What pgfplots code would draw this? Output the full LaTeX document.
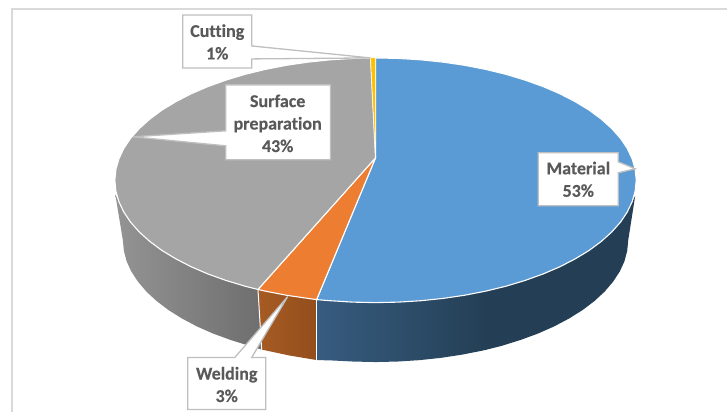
\documentclass[border=0pt]{standalone}
\usepackage{fontspec}
\setmainfont[Ligatures=NoCommon,BoldFeatures={FakeBold=0.25}]{Carlito}
\usepackage{pgfplots}
\pgfplotsset{compat=1.18}
\definecolor{cblue}{HTML}{5B9BD5}
\definecolor{corange}{HTML}{ED7D31}
\definecolor{cgray}{HTML}{A5A5A5}
\definecolor{cyellow}{HTML}{FFC000}
\definecolor{wblueL}{HTML}{375C80}
\definecolor{wblueD}{HTML}{243F55}
\definecolor{worangeL}{HTML}{A75B23}
\definecolor{worangeD}{HTML}{934E1C}
\definecolor{wgrayL}{HTML}{949494}
\definecolor{wgrayD}{HTML}{6E6E6E}
\definecolor{frameC}{HTML}{D9D9D9}
\definecolor{boxC}{HTML}{BFBFBF}
\definecolor{textC}{HTML}{595959}
\tikzset{
  slice/.style={draw=white,line width=1.1pt,line join=round},
  wall/.style={draw=none},
  callout/.style={draw=boxC,line width=1.3pt,fill=white,line join=miter},
  lab/.style={font=\fontsize{18}{22.5}\selectfont\bfseries,text=textC,align=center,inner sep=0pt}
}
\begin{document}
\begin{tikzpicture}
\begin{axis}[
  width=728pt,height=413pt,scale only axis,
  xmin=0,xmax=728,ymin=0,ymax=413,y dir=reverse,
  hide axis,clip=false,no markers]
\path (axis cs:0,0) rectangle (axis cs:728,413);
% frame
\addplot[draw=frameC,line width=1.8pt] coordinates {(12,413) (12,9) (728,9)};
% walls
\addplot[wall,fill=wblueD] coordinates {(636,196) (633,201.8) (628.1,212.2) (621.3,222.4) (612.5,232.3) (602,241.75) (589.8,250.8) (575.9,259.2) (560.6,267.1) (543.8,274.3) (525.7,280.8) (506.5,286.6) (486,291.5) (486,350.4) (502.5,346.2) (521.1,340.4) (538.6,334) (554.9,326.8) (569.8,318.9) (583.2,310.5) (595.1,301.5) (605.3,292.1) (613.7,282.2) (620.4,272.1) (625.2,261.7) (628,251.1) (629,240.5)} -- cycle;
\addplot[wall,left color=wblueL,right color=wblueD] coordinates {(317,300) (330.7,301.1) (353.2,302.5) (376,303) (398.8,302.5) (421.3,301.1) (443.5,298.8) (465.3,295.6) (487,291.4) (487,350.1) (482.9,351.1) (462.5,355.1) (441.5,358.3) (419.9,360.6) (398.1,362) (376,362.5) (353.9,362) (332.1,360.9) (317,360.5)} -- cycle;
\addplot[wall,left color=worangeL,right color=worangeD] coordinates {(258.3,289.8) (265.7,291.5) (286.7,295.6) (308.5,298.8) (317,300) (317,360.5) (290,356) (262,350)} -- cycle;
\addplot[wall,left color=wgrayL,right color=wgrayD] coordinates {(115.5,195) (119,201.8) (123.9,212.2) (130.7,222.4) (139.5,232.3) (150,241.75) (162.2,250.8) (176.1,259.2) (191.4,267.1) (208.2,274.3) (226.3,280.8) (245.5,286.6) (258.3,289.8) (262,350) (249.5,346.2) (230.9,340.4) (213.4,334) (197.1,326.8) (182.2,318.9) (168.8,310.5) (156.9,301.5) (146.7,292.1) (138.3,282.2) (131.6,272.1) (126.8,261.7) (124,251.1) (123,240.5)} -- cycle;
% white seams on the wall
\addplot[draw=white,line width=1pt] coordinates {(317,300) (317,361)};
\addplot[draw=white,line width=1pt] coordinates {(258.3,289.8) (262,350)};
% top
\addplot[slice,fill=cblue] coordinates {(376,158) (376,58) (398.8,58.5) (421.3,59.9) (443.5,62.2) (465.3,65.4) (486.3,69.5) (506.5,74.4) (525.7,80.2) (543.8,86.7) (560.6,93.9) (575.9,101.8) (589.8,110.2) (602,119.25) (612.5,128.7) (621.3,138.6) (628.1,148.8) (633,159.2) (636,169.8) (637,180.5) (636,191.2) (633,201.8) (628.1,212.2) (621.3,222.4) (612.5,232.3) (602,241.75) (589.8,250.8) (575.9,259.2) (560.6,267.1) (543.8,274.3) (525.7,280.8) (506.5,286.6) (486.3,291.5) (465.3,295.6) (443.5,298.8) (421.3,301.1) (398.8,302.5) (376,303) (353.2,302.5) (330.7,301.1) (317,300)} -- cycle;
\addplot[slice,fill=corange] coordinates {(376,158) (317,300) (308.5,298.8) (286.7,295.6) (265.7,291.5) (258.3,289.8)} -- cycle;
\addplot[slice,fill=cgray] coordinates {(376,158) (258.3,289.8) (245.5,286.6) (226.3,280.8) (208.2,274.3) (191.4,267.1) (176.1,259.2) (162.2,250.8) (150,241.75) (139.5,232.3) (130.7,222.4) (123.9,212.2) (119,201.8) (116,191.2) (115,180.5) (116,169.8) (119,159.2) (123.9,148.8) (130.7,138.6) (139.5,128.7) (150,119.25) (162.2,110.2) (176.1,101.8) (191.4,93.9) (208.2,86.7) (226.3,80.2) (245.5,74.4) (265.7,69.5) (286.7,65.4) (308.5,62.2) (330.7,59.9) (353.2,58.5) (371,58)} -- cycle;
\addplot[slice,line width=0.5pt,fill=cyellow] coordinates {(376,158) (371,58) (376,58)} -- cycle;
% callouts
\addplot[callout] coordinates {(183,15) (252,15) (252,46) (371,58) (252,59) (252,68) (183,68)} -- cycle;
\addplot[callout] coordinates {(226,85) (331,85) (331,160) (226,160) (226,146) (133,137) (226,131)} -- cycle;
\addplot[callout] coordinates {(539,153) (619,153) (619,162) (636,169) (619,173) (619,206) (539,206)} -- cycle;
\addplot[callout] coordinates {(188,358) (235,358) (288,297) (252,358) (266,358) (266,410) (188,410)} -- cycle;
% labels
\node[lab] at (axis cs:217.5,42) {Cutting\\1\%};
\node[lab] at (axis cs:278,123.5) {Surface\\preparation\\43\%};
\node[lab] at (axis cs:579,179.5) {Material\\53\%};
\node[lab] at (axis cs:227,385) {Welding\\3\%};
\end{axis}
\end{tikzpicture}
\end{document}
